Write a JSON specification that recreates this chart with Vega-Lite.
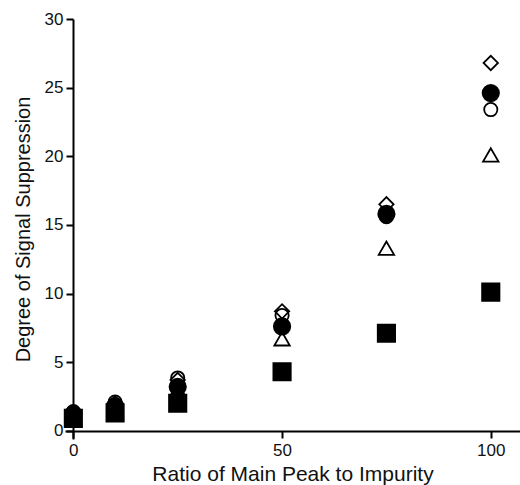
{
  "$schema": "https://vega.github.io/schema/vega-lite/v6.json",
  "autosize": "none",
  "padding": {"left": 65, "top": 19, "right": 0, "bottom": 46},
  "width": 455,
  "height": 420,
  "background": "white",
  "config": {"view": {"stroke": null}, "font": "Liberation Sans"},
  "data": {"values": [
    {"series": "Open circle", "ratio": 0, "suppression": 1.4},
    {"series": "Open circle", "ratio": 10, "suppression": 2.1},
    {"series": "Open circle", "ratio": 25, "suppression": 3.85},
    {"series": "Open circle", "ratio": 50, "suppression": 8.4},
    {"series": "Open circle", "ratio": 75, "suppression": 15.6},
    {"series": "Open circle", "ratio": 100, "suppression": 23.4},
    {"series": "Diamond", "ratio": 0, "suppression": 1.3},
    {"series": "Diamond", "ratio": 10, "suppression": 2.0},
    {"series": "Diamond", "ratio": 25, "suppression": 3.7},
    {"series": "Diamond", "ratio": 50, "suppression": 8.7},
    {"series": "Diamond", "ratio": 75, "suppression": 16.5},
    {"series": "Diamond", "ratio": 100, "suppression": 26.8},
    {"series": "Triangle", "ratio": 0, "suppression": 1.0},
    {"series": "Triangle", "ratio": 10, "suppression": 1.6},
    {"series": "Triangle", "ratio": 25, "suppression": 3.0},
    {"series": "Triangle", "ratio": 50, "suppression": 6.7},
    {"series": "Triangle", "ratio": 75, "suppression": 13.3},
    {"series": "Triangle", "ratio": 100, "suppression": 20.1},
    {"series": "Filled circle", "ratio": 0, "suppression": 1.2},
    {"series": "Filled circle", "ratio": 10, "suppression": 1.8},
    {"series": "Filled circle", "ratio": 25, "suppression": 3.2},
    {"series": "Filled circle", "ratio": 50, "suppression": 7.6},
    {"series": "Filled circle", "ratio": 75, "suppression": 15.8},
    {"series": "Filled circle", "ratio": 100, "suppression": 24.6},
    {"series": "Square", "ratio": 0, "suppression": 0.9},
    {"series": "Square", "ratio": 10, "suppression": 1.3},
    {"series": "Square", "ratio": 25, "suppression": 2.0},
    {"series": "Square", "ratio": 50, "suppression": 4.3},
    {"series": "Square", "ratio": 75, "suppression": 7.1},
    {"series": "Square", "ratio": 100, "suppression": 10.1}
  ]},
  "mark": {"type": "point", "stroke": "black", "strokeWidth": 1.8, "opacity": 1},
  "encoding": {
    "x": {
      "field": "ratio", "type": "quantitative",
      "scale": {"domain": [-2, 107], "nice": false, "zero": false},
      "axis": {
        "title": "Ratio of Main Peak to Impurity",
        "values": [0, 50, 100],
        "offset": -8,
        "grid": false,
        "domainColor": "black", "domainWidth": 2,
        "tickColor": "black", "tickWidth": 2, "tickSize": 7,
        "labelFontSize": 17, "labelColor": "#111", "labelPadding": 4,
        "titleFontSize": 21, "titleFontWeight": "normal", "titleColor": "#111", "titlePadding": 5
      }
    },
    "y": {
      "field": "suppression", "type": "quantitative",
      "scale": {"domain": [-0.6, 30], "nice": false, "zero": false},
      "axis": {
        "title": "Degree of Signal Suppression",
        "values": [0, 5, 10, 15, 20, 25, 30],
        "offset": -8,
        "grid": false,
        "domainColor": "black", "domainWidth": 2,
        "tickColor": "black", "tickWidth": 2, "tickSize": 7,
        "labelFontSize": 17, "labelColor": "#111", "labelPadding": 3,
        "titleFontSize": 20, "titleFontWeight": "normal", "titleColor": "#111", "titlePadding": 11
      }
    },
    "shape": {
      "field": "series", "type": "nominal",
      "scale": {
        "domain": ["Open circle", "Diamond", "Triangle", "Filled circle", "Square"],
        "range": ["circle", "diamond", "triangle-up", "circle", "square"]
      },
      "legend": null
    },
    "fill": {
      "field": "series", "type": "nominal",
      "scale": {
        "domain": ["Open circle", "Diamond", "Triangle", "Filled circle", "Square"],
        "range": ["transparent", "transparent", "transparent", "black", "black"]
      },
      "legend": null
    },
    "size": {
      "field": "series", "type": "nominal",
      "scale": {
        "domain": ["Open circle", "Diamond", "Triangle", "Filled circle", "Square"],
        "range": [175, 300, 260, 175, 210]
      },
      "legend": null
    }
  }
}
